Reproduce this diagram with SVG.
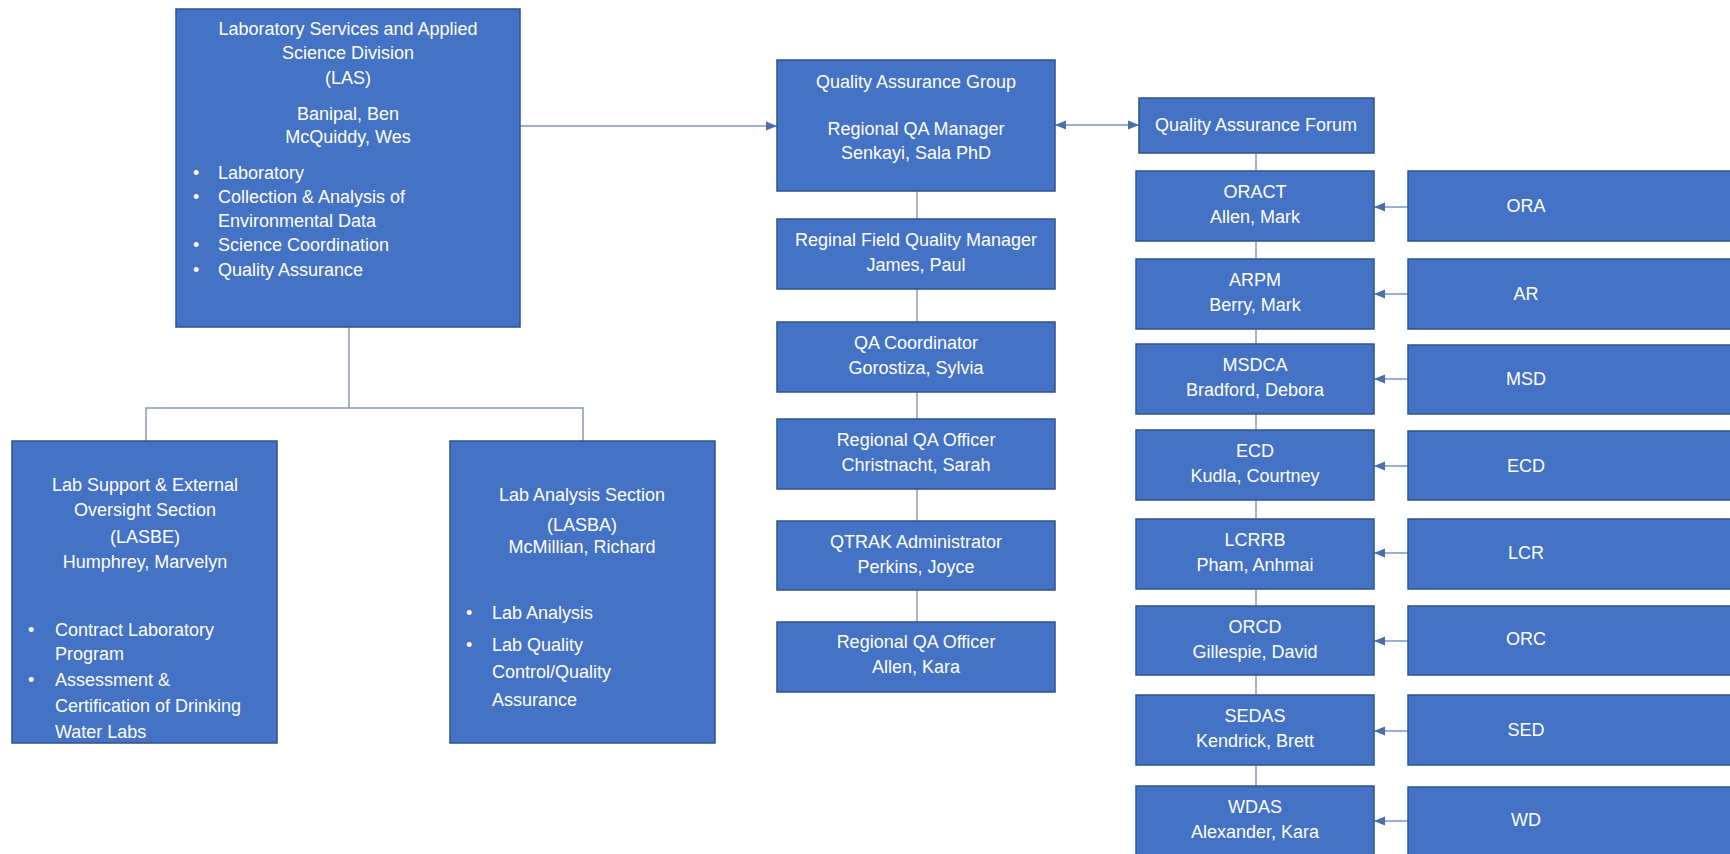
<svg xmlns="http://www.w3.org/2000/svg" width="1730" height="854" viewBox="0 0 1730 854">
  <style>
    .box { fill: #4472C4; stroke: #2F528F; stroke-width: 1.5; }
    text { font-family: "Liberation Sans", Arial, sans-serif; font-size: 18px; fill: #ffffff; }
    .c { text-anchor: middle; }
    .tree { fill: none; stroke: #8C98AC; stroke-width: 1.5; }
    .arrow { fill: none; stroke: #7F93BF; stroke-width: 1.5; }
  </style>
  <defs>
    <marker id="arr" viewBox="0 0 10 10" refX="10" refY="5" markerWidth="11" markerHeight="11" markerUnits="userSpaceOnUse" orient="auto-start-reverse">
      <path d="M0,1 L10,5 L0,9 Z" fill="#4A6DB3"/>
    </marker>
  </defs>
  <rect width="1730" height="854" fill="#ffffff"/>

  <g id="connectors">
    <line class="arrow" x1="520" y1="126" x2="777" y2="126" marker-end="url(#arr)"/>
    <line class="arrow" x1="1055" y1="125" x2="1139" y2="125" marker-start="url(#arr)" marker-end="url(#arr)"/>
    <path class="tree" d="M349,327 V408 M146,441 V408 H583 V441"/>
    <path class="tree" d="M917,191 V622"/>
    <path class="tree" d="M1256,153 V786"/>
    <line class="arrow" x1="1408" y1="207" x2="1374" y2="207" marker-end="url(#arr)"/>
    <line class="arrow" x1="1408" y1="294" x2="1374" y2="294" marker-end="url(#arr)"/>
    <line class="arrow" x1="1408" y1="379" x2="1374" y2="379" marker-end="url(#arr)"/>
    <line class="arrow" x1="1408" y1="466" x2="1374" y2="466" marker-end="url(#arr)"/>
    <line class="arrow" x1="1408" y1="553" x2="1374" y2="553" marker-end="url(#arr)"/>
    <line class="arrow" x1="1408" y1="641" x2="1374" y2="641" marker-end="url(#arr)"/>
    <line class="arrow" x1="1408" y1="731" x2="1374" y2="731" marker-end="url(#arr)"/>
    <line class="arrow" x1="1408" y1="821" x2="1374" y2="821" marker-end="url(#arr)"/>
  </g>

  <g id="las">
    <rect class="box" x="176" y="9" width="344" height="318"/>
    <text class="c" x="348" y="35">Laboratory Services and Applied</text>
    <text class="c" x="348" y="59">Science Division</text>
    <text class="c" x="348" y="84">(LAS)</text>
    <text class="c" x="348" y="120">Banipal, Ben</text>
    <text class="c" x="348" y="143">McQuiddy, Wes</text>
    <text x="193" y="179">•</text><text x="218" y="179">Laboratory</text>
    <text x="193" y="203">•</text><text x="218" y="203">Collection &amp; Analysis of</text>
    <text x="218" y="227">Environmental Data</text>
    <text x="193" y="251">•</text><text x="218" y="251">Science Coordination</text>
    <text x="193" y="276">•</text><text x="218" y="276">Quality Assurance</text>
  </g>

  <g id="lasbe">
    <rect class="box" x="12" y="441" width="265" height="302"/>
    <text class="c" x="145" y="491">Lab Support &amp; External</text>
    <text class="c" x="145" y="516">Oversight Section</text>
    <text class="c" x="145" y="543">(LASBE)</text>
    <text class="c" x="145" y="568">Humphrey, Marvelyn</text>
    <text x="28" y="636">•</text><text x="55" y="636">Contract Laboratory</text>
    <text x="55" y="660">Program</text>
    <text x="28" y="686">•</text><text x="55" y="686">Assessment &amp;</text>
    <text x="55" y="712">Certification of Drinking</text>
    <text x="55" y="738">Water Labs</text>
  </g>

  <g id="lasba">
    <rect class="box" x="450" y="441" width="265" height="302"/>
    <text class="c" x="582" y="501">Lab Analysis Section</text>
    <text class="c" x="582" y="531">(LASBA)</text>
    <text class="c" x="582" y="553">McMillian, Richard</text>
    <text x="466" y="619">•</text><text x="492" y="619">Lab Analysis</text>
    <text x="466" y="651">•</text><text x="492" y="651">Lab Quality</text>
    <text x="492" y="678">Control/Quality</text>
    <text x="492" y="706">Assurance</text>
  </g>

  <g id="qa-group">
    <rect class="box" x="777" y="60" width="278" height="131"/>
    <text class="c" x="916" y="88">Quality Assurance Group</text>
    <text class="c" x="916" y="135">Regional QA Manager</text>
    <text class="c" x="916" y="159">Senkayi, Sala PhD</text>
  </g>
  <g id="field-qm">
    <rect class="box" x="777" y="219" width="278" height="70"/>
    <text class="c" x="916" y="246">Reginal Field Quality Manager</text>
    <text class="c" x="916" y="271">James, Paul</text>
  </g>
  <g id="qa-coord">
    <rect class="box" x="777" y="322" width="278" height="70"/>
    <text class="c" x="916" y="349">QA Coordinator</text>
    <text class="c" x="916" y="374">Gorostiza, Sylvia</text>
  </g>
  <g id="qa-officer-1">
    <rect class="box" x="777" y="419" width="278" height="70"/>
    <text class="c" x="916" y="446">Regional QA Officer</text>
    <text class="c" x="916" y="471">Christnacht, Sarah</text>
  </g>
  <g id="qtrak">
    <rect class="box" x="777" y="521" width="278" height="69"/>
    <text class="c" x="916" y="548">QTRAK Administrator</text>
    <text class="c" x="916" y="573">Perkins, Joyce</text>
  </g>
  <g id="qa-officer-2">
    <rect class="box" x="777" y="622" width="278" height="70"/>
    <text class="c" x="916" y="648">Regional QA Officer</text>
    <text class="c" x="916" y="673">Allen, Kara</text>
  </g>

  <g id="qa-forum">
    <rect class="box" x="1139" y="98" width="235" height="55"/>
    <text class="c" x="1256" y="131">Quality Assurance Forum</text>
  </g>
  <g id="oract">
    <rect class="box" x="1136" y="171" width="238" height="70"/>
    <text class="c" x="1255" y="198">ORACT</text>
    <text class="c" x="1255" y="223">Allen, Mark</text>
  </g>
  <g id="arpm">
    <rect class="box" x="1136" y="259" width="238" height="70"/>
    <text class="c" x="1255" y="286">ARPM</text>
    <text class="c" x="1255" y="311">Berry, Mark</text>
  </g>
  <g id="msdca">
    <rect class="box" x="1136" y="344" width="238" height="70"/>
    <text class="c" x="1255" y="371">MSDCA</text>
    <text class="c" x="1255" y="396">Bradford, Debora</text>
  </g>
  <g id="ecd-l">
    <rect class="box" x="1136" y="430" width="238" height="70"/>
    <text class="c" x="1255" y="457">ECD</text>
    <text class="c" x="1255" y="482">Kudla, Courtney</text>
  </g>
  <g id="lcrrb">
    <rect class="box" x="1136" y="519" width="238" height="70"/>
    <text class="c" x="1255" y="546">LCRRB</text>
    <text class="c" x="1255" y="571">Pham, Anhmai</text>
  </g>
  <g id="orcd">
    <rect class="box" x="1136" y="606" width="238" height="69"/>
    <text class="c" x="1255" y="633">ORCD</text>
    <text class="c" x="1255" y="658">Gillespie, David</text>
  </g>
  <g id="sedas">
    <rect class="box" x="1136" y="695" width="238" height="70"/>
    <text class="c" x="1255" y="722">SEDAS</text>
    <text class="c" x="1255" y="747">Kendrick, Brett</text>
  </g>
  <g id="wdas">
    <rect class="box" x="1136" y="786" width="238" height="70"/>
    <text class="c" x="1255" y="813">WDAS</text>
    <text class="c" x="1255" y="838">Alexander, Kara</text>
  </g>

  <g id="ora">
    <rect class="box" x="1408" y="171" width="330" height="70"/>
    <text class="c" x="1526" y="212">ORA</text>
  </g>
  <g id="ar">
    <rect class="box" x="1408" y="259" width="330" height="70"/>
    <text class="c" x="1526" y="300">AR</text>
  </g>
  <g id="msd">
    <rect class="box" x="1408" y="345" width="330" height="69"/>
    <text class="c" x="1526" y="385">MSD</text>
  </g>
  <g id="ecd-r">
    <rect class="box" x="1408" y="431" width="330" height="69"/>
    <text class="c" x="1526" y="472">ECD</text>
  </g>
  <g id="lcr">
    <rect class="box" x="1408" y="519" width="330" height="70"/>
    <text class="c" x="1526" y="559">LCR</text>
  </g>
  <g id="orc">
    <rect class="box" x="1408" y="606" width="330" height="69"/>
    <text class="c" x="1526" y="645">ORC</text>
  </g>
  <g id="sed">
    <rect class="box" x="1408" y="695" width="330" height="70"/>
    <text class="c" x="1526" y="736">SED</text>
  </g>
  <g id="wd">
    <rect class="box" x="1408" y="787" width="330" height="70"/>
    <text class="c" x="1526" y="826">WD</text>
  </g>
</svg>
